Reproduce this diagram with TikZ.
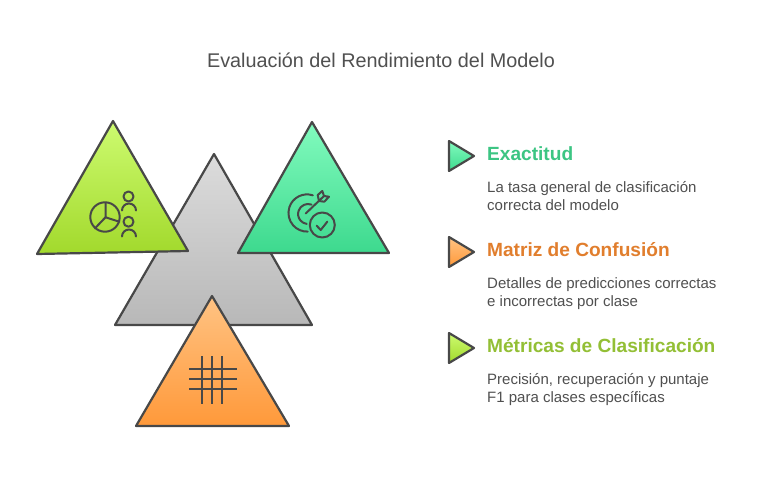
\documentclass[tikz,border=0pt]{standalone}
\usepackage{fontspec}
\setmainfont{Liberation Sans}
\definecolor{ink}{HTML}{484848}
\definecolor{txt}{HTML}{505050}
\definecolor{headteal}{HTML}{3CC583}
\definecolor{headorange}{HTML}{E17E2D}
\definecolor{headlime}{HTML}{93BF35}
\definecolor{limetop}{HTML}{CDFB70}
\definecolor{limebot}{HTML}{A2D92C}
\definecolor{tealtop}{HTML}{82FBBE}
\definecolor{tealbot}{HTML}{3DD98E}
\definecolor{ortop}{HTML}{FFC383}
\definecolor{orbot}{HTML}{FF993A}
\definecolor{graytop}{HTML}{DCDCDC}
\definecolor{graybot}{HTML}{B8B8B8}
\tikzset{
  tri/.style={draw=ink,line width=2.2pt,line join=round},
  limetri/.style={tri,top color=limetop,bottom color=limebot},
  tealtri/.style={tri,top color=tealtop,bottom color=tealbot},
  ortri/.style={tri,top color=ortop,bottom color=orbot},
  graytri/.style={tri,top color=graytop,bottom color=graybot},
  ico/.style={draw=ink,line width=2pt,line cap=round,line join=round},
  title/.style={font=\fontsize{19.8}{24}\selectfont,text=txt,anchor=base,inner sep=0pt},
  head/.style={font=\fontsize{19.1}{23}\selectfont\bfseries,anchor=base west,inner sep=0pt},
  body/.style={font=\fontsize{15}{18}\selectfont,text=txt,anchor=base west,inner sep=0pt},
}
\begin{document}
\begin{tikzpicture}[x=1pt,y=-1pt]
\useasboundingbox[fill=white] (0,0) rectangle (762,500);
\node[title] (t) at (381,68) {Evaluación del Rendimiento del Modelo};
% large triangles
\path[graytri] (214,154) -- (312,325) -- (115,325) -- cycle;
\path[ortri] (212,296) -- (289,426) -- (136,426) -- cycle;
\path[limetri] (113,121) -- (188,251) -- (37,254) -- cycle;
\path[tealtri] (312,122) -- (389,253) -- (238,253) -- cycle;
% pie and people icon
\draw[ico] (105,217) circle (14.7);
\draw[ico] (105.5,203) -- (105.5,217.3) -- (119.3,221.7);
\draw[ico] (105.5,217.3) -- (95,228.3);
\draw[ico] (128.5,196.5) circle (5);
\draw[ico] (122,210.5) arc[start angle=180,end angle=0,x radius=7,y radius=-7];
\draw[ico] (128.5,221.7) circle (5);
\draw[ico] (122,236.5) arc[start angle=180,end angle=0,x radius=7,y radius=-7];
% target icon
\draw[ico] (322.3,225) circle (12.5);
\draw[ico] (316.7,225.7) -- (320.7,230) -- (327.3,221.7);
\draw[ico] (312.8,195.3) arc[start angle=72,end angle=272,x radius=18.6,y radius=-18.6];
\draw[ico] (311.5,204.6) arc[start angle=70,end angle=262,x radius=10,y radius=-10];
\draw[ico] (305.7,213.5) -- (324,196);
\draw[ico] (317.7,195) -- (322.3,191) -- (324,196) -- (329,196.7) -- (324.3,201.7) -- (319,201) -- cycle;
% grid icon
\foreach \gx in {201.7,211.7,221.7} \draw[ico,line cap=butt] (\gx,356) -- (\gx,403.5);
\foreach \gy in {369,379,389} \draw[ico,line cap=butt] (189,\gy) -- (236.7,\gy);
% legend
\path[tealtri] (449,141) -- (474,156) -- (449,171) -- cycle;
\path[ortri] (449,237) -- (474,252) -- (449,267) -- cycle;
\path[limetri] (449,333) -- (474,348) -- (449,363) -- cycle;
\node[head,text=headteal] (h1) at (487,160.5) {Exactitud};
\node[body] (b1a) at (487,192) {La tasa general de clasificación};
\node[body] (b1b) at (487,210) {correcta del modelo};
\node[head,text=headorange] (h2) at (487,256.5) {Matriz de Confusión};
\node[body] (b2a) at (487,288) {Detalles de predicciones correctas};
\node[body] (b2b) at (487,306) {e incorrectas por clase};
\node[head,text=headlime] (h3) at (487,352.5) {Métricas de Clasificación};
\node[body] (b3a) at (487,384) {Precisión, recuperación y puntaje};
\node[body] (b3b) at (487,402) {F1 para clases específicas};
\end{tikzpicture}
\end{document}
